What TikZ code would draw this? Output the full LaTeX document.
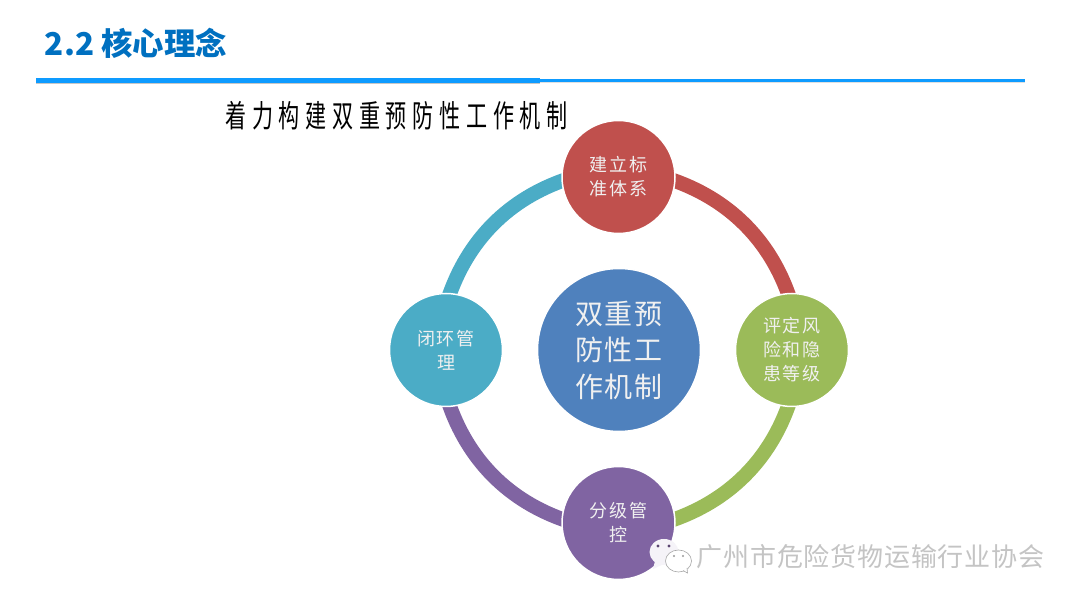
\documentclass[tikz,border=0pt]{standalone}
\usepackage{fontspec}
\usepackage{graphicx}
\usetikzlibrary{backgrounds}
\newfontfamily\cjk{Noto Sans CJK SC}
\newfontfamily\cjkwide[LetterSpace=11]{Noto Sans CJK SC}
\newfontfamily\cjkhub[LetterSpace=7]{Noto Sans CJK SC}
\newfontfamily\cjktitle[LetterSpace=27]{Noto Sans CJK SC}
\newfontfamily\cjkmark[LetterSpace=3]{Noto Sans CJK SC}
\definecolor{titleblue}{HTML}{0070C0}
\definecolor{ruleblue}{HTML}{0E9BFF}
\definecolor{cred}{HTML}{C0504D}
\definecolor{cgreen}{HTML}{9BBB59}
\definecolor{cpurple}{HTML}{8064A2}
\definecolor{cteal}{HTML}{4BACC6}
\definecolor{cblue}{HTML}{4F81BD}
\definecolor{markgray}{HTML}{C4C4C4}
\tikzset{
  ball/.style={circle,draw=white,line width=1.5pt,minimum size=113pt,inner sep=0pt,align=center,text=white!94!black,font=\cjkwide\fontsize{18}{24}\selectfont},
  hubball/.style={ball,minimum size=163pt,font=\cjkhub\fontsize{28}{36.5}\selectfont},
  ringarc/.style={line width=14.5pt,shorten <=-7pt,shorten >=-7pt,looseness=.9}
}
\begin{document}
\begin{tikzpicture}[x=1pt,y=1pt]
  \useasboundingbox (0,0) rectangle (1080,605);
  \node (title) at (136,562) {\cjk\fontsize{31.4}{31.4}\selectfont\bfseries\textcolor{titleblue}{2.2 核心理念}};
  \fill[black!22] (36,520.5) rectangle (540,523);
  \fill[black!12] (540,521.5) rectangle (1025,523.5);
  \fill[ruleblue] (36,522) rectangle (540,527);
  \fill[ruleblue] (540,523) rectangle (1025,526);
  \node (subtitle) at (396.5,489) {\scalebox{.68}[1]{\cjktitle\fontsize{31}{31}\selectfont 着力构建双重预防性工作机制}};
  \node[hubball,fill=cblue] (hub) at (619,255) {双重预\\防性工\\作机制};
  \node[ball,fill=cred] (nstd) at (618.5,428) {建立标\\准体系};
  \node[ball,fill=cgreen] (nrisk) at (792,255) {评定风\\险和隐\\患等级};
  \node[ball,fill=cpurple] (nctrl) at (618.5,82) {分级管\\控};
  \node[ball,fill=cteal] (nloop) at (446,255) {闭环管\\理};
  \begin{pgfonlayer}{background}
    \fill[white] (0,0) rectangle (1080,605);
    \draw[ringarc,cred] (nstd.-4) to[out=-18.3,in=108.3] (nrisk.94);
    \draw[ringarc,cgreen] (nrisk.-94) to[out=-108.3,in=18.3] (nctrl.4);
    \draw[ringarc,cpurple] (nctrl.176) to[out=161.7,in=-71.7] (nloop.-86);
    \draw[ringarc,cteal] (nloop.86) to[out=71.7,in=198.3] (nstd.184);
  \end{pgfonlayer}
  \fill[white!92!cpurple] (664,53) ellipse (14.5pt and 13pt);
  \fill[white!92!cpurple] (655,44) -- (653,36) -- (664,41) -- cycle;
  \fill[cpurple!70!black] (658,59) circle (1.7pt);
  \fill[cpurple!70!black] (669,59) circle (1.7pt);
  \draw[black!35,fill=white,line width=.6pt] (678.5,44) ellipse (13pt and 11pt);
  \draw[black!35,fill=white,line width=.6pt] (683,34.5) -- (687.5,32) -- (687,37);
  \fill[black!40] (674,49) circle (1.2pt);
  \fill[black!40] (683,49) circle (1.2pt);
  \node[text=markgray] (wmark) at (870.5,48) {\cjkmark\fontsize{26}{26}\selectfont 广州市危险货物运输行业协会};
\end{tikzpicture}
\end{document}
